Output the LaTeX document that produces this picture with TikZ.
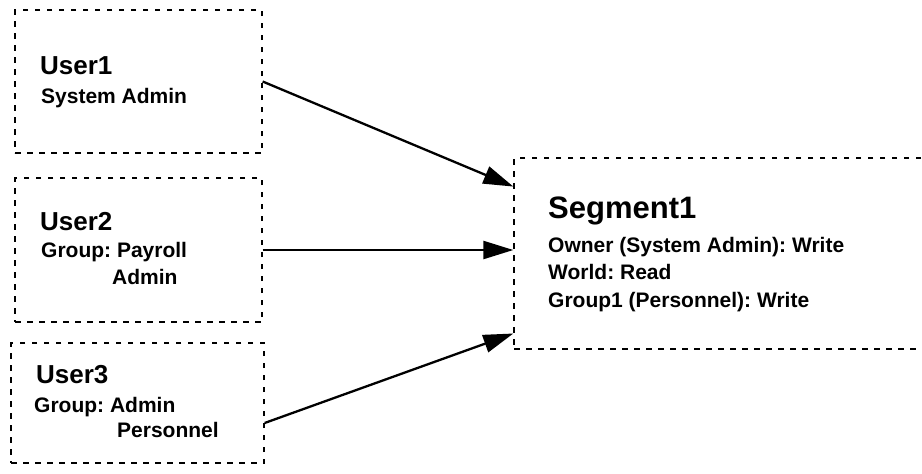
\documentclass[tikz,border=0pt]{standalone}
\usepackage{fontspec}
\setmainfont{Liberation Sans}
\usetikzlibrary{arrows.meta,calc}
\tikzset{
  dbox/.style={draw, line width=1.3pt, dash pattern=on 5.5pt off 6.5pt, rectangle, inner sep=0pt, fill=none},
  title/.style={anchor=base west, inner sep=0pt, font=\frenchspacing\bfseries\fontsize{26}{30}\selectfont},
  bigtitle/.style={anchor=base west, inner sep=0pt, font=\frenchspacing\bfseries\fontsize{31}{36}\selectfont},
  info/.style={anchor=base west, inner sep=0pt, font=\frenchspacing\bfseries\fontsize{21}{25}\selectfont},
  conn/.style={line width=2.3pt, -{Triangle[length=30pt,width=18pt]}}
}
\begin{document}
\begin{tikzpicture}[x=1pt,y=-1pt]
\useasboundingbox (0,0) rectangle (922,474);
\clip (0,0) rectangle (922,474);
% boxes
\node[dbox, minimum width=247pt, minimum height=143pt] (u1box) at (138.5,81.5) {};
\node[dbox, minimum width=247pt, minimum height=144pt] (u2box) at (138.5,250) {};
\node[dbox, minimum width=253pt, minimum height=120pt] (u3box) at (137.5,403) {};
\node[dbox, minimum width=426pt, minimum height=191pt] (seg) at (727,253.5) {};
% texts
\node[title] (t1a) at (40,74) {User1};
\node[info] (t1b) at (41,103) {System Admin};
\node[title] (t2a) at (40,230) {User2};
\node[info] (t2b) at (41,257) {Group: Payroll};
\node[info] (t2c) at (112,284) {Admin};
\node[title] (t3a) at (36,383) {User3};
\node[info] (t3b) at (34,412) {Group: Admin};
\node[info] (t3c) at (117,437) {Personnel};
\node[bigtitle] (s1) at (548,218) {Segment1};
\node[info] (s2) at (548,252) {Owner (System Admin): Write};
\node[info] (s3) at (548,279) {World: Read};
\node[info] (s4) at (548,307) {Group1 (Personnel): Write};
% connector endpoints
\coordinate (e1) at ($(seg.north west)!0.152!(seg.south west)$);
\coordinate (e3) at ($(seg.north west)!0.916!(seg.south west)$);
\coordinate (s3start) at ($(u3box.east)+(0,20)$);
% connectors
\draw[conn] (u1box.east) -- (e1);
\draw[conn] (u2box.east) -- (seg.west |- u2box.east);
\draw[conn] (s3start) -- (e3);
\end{tikzpicture}
\end{document}
